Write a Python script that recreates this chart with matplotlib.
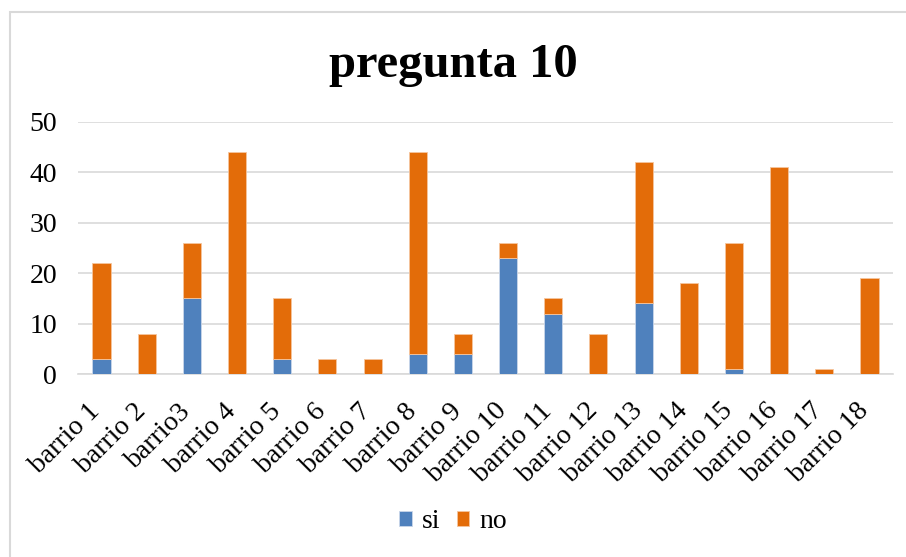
import matplotlib
matplotlib.use("Agg")
import matplotlib.pyplot as plt
from matplotlib.patches import Rectangle
from matplotlib.transforms import ScaledTranslation
import numpy as np

categories = ["barrio 1", "barrio 2", "barrio3", "barrio 4", "barrio 5", "barrio 6",
              "barrio 7", "barrio 8", "barrio 9", "barrio 10", "barrio 11", "barrio 12",
              "barrio 13", "barrio 14", "barrio 15", "barrio 16", "barrio 17", "barrio 18"]
si = [3, 0, 15, 0, 3, 0, 0, 4, 4, 23, 12, 0, 14, 0, 1, 0, 0, 0]
no = [19, 8, 11, 44, 12, 3, 3, 40, 4, 3, 3, 8, 28, 18, 25, 41, 1, 19]

plt.rcParams["font.family"] = ["Liberation Serif", "DejaVu Serif"]

fig = plt.figure(figsize=(9.06, 5.57), dpi=100)
ax = fig.add_axes([78 / 906, 1 - 374 / 557, (893 - 78) / 906, (374 - 122) / 557])

x = np.arange(len(categories))
w = 0.4
ax.bar(x, si, w, color="#4F81BD", edgecolor="#C9D6EA", linewidth=0.6, label="si", zorder=3)
ax.bar(x, no, w, bottom=si, color="#E36C09", edgecolor="#F5C59E", linewidth=0.6, label="no", zorder=3)

ax.set_xlim(-0.52, len(categories) - 0.48)
ax.set_ylim(0, 50)
ax.set_yticks(range(0, 51, 10))
ax.yaxis.grid(True, color="#D9D9D9", linewidth=1.2)
ax.set_axisbelow(True)
for s in ["top", "right", "left"]:
    ax.spines[s].set_visible(False)
ax.spines["bottom"].set_color("#D9D9D9")
ax.spines["bottom"].set_linewidth(1.2)
ax.tick_params(axis="both", length=0)
ax.tick_params(axis="y", pad=15, labelsize=20)
ax.tick_params(axis="x", pad=24, labelsize=20)
ax.set_xticks(x)
ax.set_xticklabels(categories, rotation=45, ha="right", va="center", rotation_mode="anchor")
shift = ScaledTranslation(-5 / 100, 0, fig.dpi_scale_trans)
for lab in ax.get_xticklabels():
    lab.set_transform(lab.get_transform() + shift)

fig.text(0.5, 1 - 65 / 557, "pregunta 10", ha="center", va="center",
         fontsize=35, fontweight="bold")

fig.legend(loc="center", bbox_to_anchor=(0.5, 1 - 522 / 557), ncol=2, frameon=False,
           fontsize=20, handlelength=0.45, handleheight=0.45, handletextpad=0.35,
           columnspacing=0.6)

# chart border
fig.patches.append(Rectangle((10 / 906, -0.01), 1.0, 1 - 12 / 557 + 0.01,
                             transform=fig.transFigure, fill=False,
                             edgecolor="#D9D9D9", linewidth=1.5))

fig.savefig("out.png", dpi=100)
